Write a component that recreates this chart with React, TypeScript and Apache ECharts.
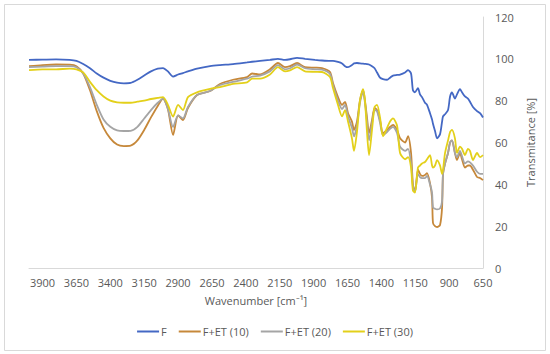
import React, { useEffect, useRef } from "react";
import * as echarts from "echarts";

const wavenumbers = [
  4000, 3900, 3800, 3700, 3650, 3600, 3550, 3500, 3450, 3400, 3350, 3300, 3250, 3200, 3150, 3100, 3050, 3011,
  2975, 2937, 2900, 2864, 2827, 2760, 2664, 2591, 2495, 2391, 2354, 2295, 2222, 2163, 2111, 2074, 2022, 1963,
  1890, 1838, 1779, 1757, 1720, 1690, 1668, 1646, 1617, 1602, 1580, 1558, 1535, 1521, 1506, 1491, 1469, 1450,
  1432, 1410, 1388, 1358, 1336, 1314, 1284, 1262, 1225, 1203, 1181, 1167, 1152, 1130, 1115, 1100, 1078, 1063,
  1041, 1026, 1019, 1004, 989, 967, 952, 945, 930, 908, 893, 879, 857, 842, 820, 805, 783, 761, 746, 724, 694,
  672, 650,
];

const seriesF = [
  99.5, 99.6, 99.7, 99.5, 99, 97.5, 95.5, 93, 91, 89.5, 88.6, 88.3, 88.5, 90, 92, 94, 95.3, 95.6,
  94, 91.5, 92.5, 93.2, 94, 95.3, 96.5, 97, 97.5, 98.3, 98.6, 99, 99.5, 100, 99.5, 99.8, 100.5, 100,
  99.5, 99.2, 99, 99, 98.5, 97.8, 96.5, 96, 97, 97.8, 98, 97.8, 97.7, 97.6, 97.5, 97.3, 96.5, 95.5,
  93.5, 91, 90.3, 90, 91, 92, 92.3, 92.5, 93.5, 94.6, 93, 85, 84, 86, 83, 81.7, 79, 78,
  74, 71, 69, 65.5, 62, 64, 70, 72.5, 73.5, 75.5, 82, 84, 81, 83, 85.5, 84, 82, 81, 79.5, 77, 75,
  74, 72,
];

const seriesET10 = [
  96.5, 97, 97.3, 97.2, 96.5, 93, 85, 75, 67, 62, 59, 58.3, 58.5, 61, 66, 72, 77.5, 81,
  76, 63.6, 73, 70.7, 76.5, 82.7, 84.6, 88, 90, 91.3, 93, 92.5, 95, 98, 96, 96.5, 98, 96,
  95.8, 95.6, 93.7, 88.4, 81.7, 78, 79.4, 74, 70, 66, 70, 80, 85, 80, 72, 64.5, 70.7, 76.5,
  75.5, 70.7, 64.5, 66, 67.4, 68.4, 66, 62, 60, 63, 55, 40, 36.5, 47, 45, 44, 44.5, 45.4,
  40.6, 33.5, 21.5, 20, 19.6, 20.6, 29, 45, 50, 55, 60, 61, 55, 51.6, 55, 52, 48, 49, 49, 47, 43.5,
  43, 42,
];

const seriesET20 = [
  96, 96.3, 96.5, 96.5, 96, 93, 86.5, 78, 71, 67.5, 65.8, 65.5, 65.6, 67.5, 71.5, 75.5, 79, 81,
  76, 67.4, 73, 71.5, 77, 82.7, 84.6, 87.5, 89, 90.5, 91.5, 92, 94, 97, 95, 95.5, 97.3, 95.5,
  95, 94.8, 92.8, 87.5, 80, 76, 78, 72.5, 67, 63, 68, 79, 84.5, 79, 70, 61, 69, 75.5,
  75, 69.5, 63.5, 65, 66.5, 67.5, 64.5, 58, 56, 57, 50, 39, 36.5, 45, 43.5, 43, 43, 44,
  40, 36, 29, 28.3, 28, 28.5, 32, 45, 50, 55, 60, 61, 55, 53, 56, 53.5, 50, 51, 50.5, 49, 46,
  45, 45,
];

const seriesET30 = [
  94.6, 95, 95, 95.3, 95, 93.5, 89, 85, 82, 80, 79.2, 79, 79, 79.5, 80, 80.8, 81.3, 81.7,
  78, 72.4, 78, 75.5, 81.7, 84, 85.6, 86.5, 88, 88.8, 90.5, 90.5, 92.5, 96, 94, 94.5, 96, 94,
  93.8, 93.7, 91.3, 86, 78, 72.5, 75.5, 70, 62, 56, 65, 80, 85.5, 80, 65, 54, 66, 77,
  78, 72, 63, 67, 70, 71.5, 68, 55, 52, 53, 48, 37, 36, 48, 49, 50, 50.7, 52,
  54, 49, 48, 49, 51.6, 49, 45, 47, 55, 61, 65, 66, 62, 55, 58, 57, 54, 57, 56, 51.6, 55,
  53, 54,
];

const xTickLabels = [3900, 3650, 3400, 3150, 2900, 2650, 2400, 2150, 1900, 1650, 1400, 1150, 900, 650];

const seriesNames = ["F", "F+ET (10)", "F+ET (20)", "F+ET (30)"];
const seriesColors = ["#4468C4", "#C6883A", "#A5A5A5", "#E3D01A"];

const FONT = "Open Sans";

export default function App() {
  const ref = useRef<HTMLDivElement>(null);

  useEffect(() => {
    if (!ref.current) return;
    const chart = echarts.init(ref.current, undefined, { renderer: "svg" });
    const all = [seriesF, seriesET10, seriesET20, seriesET30];
    chart.setOption({
      animation: false,
      backgroundColor: "#ffffff",
      graphic: [
        {
          type: "rect",
          shape: { x: 4.5, y: 4.5, width: 541, height: 346 },
          style: { fill: "none", stroke: "#D9D9D9", lineWidth: 1 },
          silent: true,
        },
      ],
      grid: { left: 29, right: 67, top: 17, bottom: 86 },
      legend: {
        bottom: 12,
        left: "center",
        icon: "rect",
        itemWidth: 22,
        itemHeight: 2,
        itemGap: 12,
        textStyle: { fontFamily: FONT, fontSize: 11, color: "#595959", padding: [0, 0, 0, -3] },
        data: seriesNames,
      },
      xAxis: {
        type: "value",
        min: 650,
        max: 4000,
        inverse: true,
        name: "Wavenumber [cm⁻¹]",
        nameLocation: "middle",
        nameGap: 27,
        nameTextStyle: { fontFamily: FONT, fontSize: 11, color: "#595959" },
        axisLine: { show: true, lineStyle: { color: "#D9D9D9", width: 1 } },
        axisTick: { show: false },
        splitLine: { show: false },
        axisLabel: {
          customValues: xTickLabels,
          formatter: (v: number) => String(v),
          fontFamily: FONT,
          fontSize: 11,
          color: "#595959",
          margin: 9,
        },
      },
      yAxis: {
        type: "value",
        position: "right",
        min: 0,
        max: 120,
        interval: 20,
        name: "Transmitance [%]",
        nameLocation: "middle",
        nameGap: 40,
        nameRotate: 90,
        nameTextStyle: { fontFamily: FONT, fontSize: 11, color: "#595959" },
        axisLine: { show: true, lineStyle: { color: "#D9D9D9", width: 1 } },
        axisTick: { show: false },
        splitLine: { show: false },
        axisLabel: { fontFamily: FONT, fontSize: 11, color: "#595959", margin: 12 },
      },
      series: seriesNames.map((name, i) => ({
        name,
        type: "line",
        showSymbol: false,
        smooth: 0.25,
        color: seriesColors[i],
        lineStyle: { width: 1.8, color: seriesColors[i] },
        data: wavenumbers.map((w, j) => [w, all[i][j]]),
      })),
    });
    return () => chart.dispose();
  }, []);

  return (
    <div style={{ position: "absolute", left: 0, top: 0, width: 550, height: 354, background: "#fff" }}>
      <div ref={ref} style={{ width: 550, height: 354 }} />
    </div>
  );
}
